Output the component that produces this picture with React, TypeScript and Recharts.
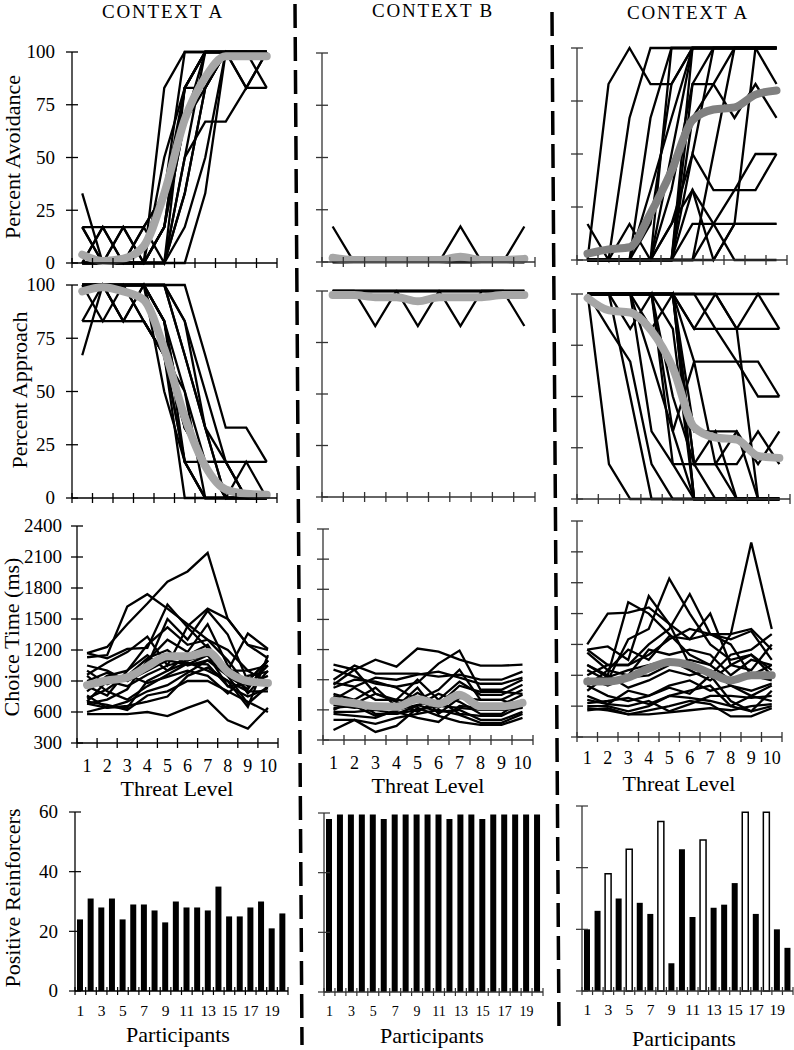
import React from 'react';
import { LineChart, Line, XAxis, YAxis, BarChart, Bar, Cell } from 'recharts';

const FONT = '"Liberation Serif", "Times New Roman", Times, serif';

// ---- categories / ticks ----
const threatLevels = [1, 2, 3, 4, 5, 6, 7, 8, 9, 10];
const levelEdges = [0.5, 1.5, 2.5, 3.5, 4.5, 5.5, 6.5, 7.5, 8.5, 9.5, 10.5];
const participants = [1, 2, 3, 4, 5, 6, 7, 8, 9, 10, 11, 12, 13, 14, 15, 16, 17, 18, 19, 20];
const pctTicks = [0, 25, 50, 75, 100];
const msTicks = [300, 600, 900, 1200, 1500, 1800, 2100, 2400];
const reinfTicks = [0, 20, 40, 60];

// ---- percent avoidance, context A (first) ----
const avoidA1 = [
  [33, 0, 0, 0, 0, 33, 83, 100, 100, 100],
  [17, 17, 17, 17, 33, 83, 100, 100, 100, 100],
  [17, 0, 17, 0, 17, 83, 100, 100, 100, 100],
  [0, 17, 0, 17, 0, 50, 100, 100, 100, 100],
  [17, 0, 0, 17, 33, 100, 100, 100, 83, 100],
  [0, 0, 17, 0, 17, 67, 100, 100, 100, 83],
  [0, 17, 0, 0, 0, 83, 83, 100, 100, 100],
  [0, 0, 0, 0, 83, 100, 100, 100, 100, 100],
  [0, 0, 0, 0, 50, 83, 100, 100, 100, 100],
  [0, 0, 0, 0, 0, 50, 67, 67, 83, 83],
  [0, 0, 0, 0, 0, 17, 50, 100, 100, 100],
  [0, 0, 0, 0, 0, 0, 33, 100, 100, 100],
  [0, 0, 0, 0, 17, 67, 83, 100, 83, 100],
  [0, 0, 0, 0, 0, 33, 83, 100, 100, 100],
  [0, 0, 0, 0, 17, 83, 100, 100, 100, 100],
];
const avoidA1Mean = [4, 1, 2, 8, 33, 68, 88, 98, 98, 98];

// ---- percent avoidance, context B ----
const avoidB = [
  [17, 0, 0, 0, 0, 0, 0, 0, 0, 0],
  [0, 0, 0, 0, 0, 0, 17, 0, 0, 0],
  [0, 0, 0, 0, 0, 0, 0, 0, 0, 17],
  [0, 0, 0, 0, 0, 0, 0, 0, 0, 0],
];
const avoidBMean = [2, 1, 1, 1, 1, 1, 2.5, 1, 1, 1.5];

// ---- percent avoidance, context A (second) ----
const avoidA2 = [
  [0, 83, 100, 83, 83, 100, 100, 100, 100, 100],
  [17, 0, 67, 100, 100, 100, 100, 100, 100, 100],
  [0, 0, 0, 67, 100, 100, 100, 100, 100, 100],
  [0, 0, 0, 33, 67, 100, 100, 100, 100, 100],
  [0, 0, 0, 0, 100, 100, 100, 100, 100, 100],
  [0, 0, 0, 17, 83, 100, 100, 100, 100, 100],
  [0, 0, 0, 0, 33, 83, 83, 67, 83, 67],
  [0, 0, 0, 0, 0, 67, 83, 100, 100, 100],
  [0, 0, 0, 0, 0, 50, 33, 33, 33, 50],
  [0, 0, 0, 0, 0, 17, 17, 17, 17, 17],
  [0, 0, 0, 0, 0, 33, 17, 0, 0, 0],
  [0, 0, 0, 0, 0, 0, 17, 33, 50, 50],
  [0, 0, 0, 0, 0, 0, 0, 17, 100, 100],
  [0, 0, 0, 0, 50, 100, 100, 100, 100, 83],
  [0, 0, 0, 0, 0, 0, 50, 100, 100, 100],
  [0, 0, 0, 0, 17, 33, 0, 17, 17, 17],
  [0, 0, 0, 0, 0, 100, 100, 100, 100, 100],
  [0, 0, 0, 0, 17, 50, 100, 100, 100, 100],
  [0, 0, 17, 0, 0, 83, 100, 100, 100, 100],
];
const avoidA2Mean = [3, 5, 6, 22, 42, 66, 71, 72, 78, 80];

// ---- percent approach, context A (first) ----
const apprA1 = [
  [67, 100, 83, 83, 67, 33, 17, 0, 0, 0],
  [83, 83, 83, 83, 67, 50, 17, 17, 0, 0],
  [100, 83, 100, 83, 67, 17, 0, 0, 0, 0],
  [100, 100, 83, 100, 83, 33, 17, 0, 0, 0],
  [83, 100, 100, 100, 100, 67, 33, 17, 17, 17],
  [100, 100, 100, 100, 100, 100, 67, 33, 33, 17],
  [100, 100, 100, 100, 100, 83, 50, 17, 0, 0],
  [100, 100, 100, 100, 83, 50, 0, 0, 0, 0],
  [100, 100, 83, 100, 67, 17, 17, 0, 17, 0],
  [100, 100, 100, 100, 50, 17, 0, 0, 0, 0],
  [100, 100, 100, 100, 100, 67, 33, 0, 0, 0],
  [100, 100, 100, 83, 67, 0, 0, 0, 0, 0],
  [100, 100, 100, 100, 83, 33, 17, 17, 0, 0],
  [100, 100, 100, 100, 100, 83, 33, 0, 0, 0],
  [100, 100, 100, 100, 83, 17, 0, 0, 0, 0],
];
const apprA1Mean = [97, 99, 97, 93, 70, 38, 15, 4, 2, 1.5];

// ---- percent approach, context B ----
const apprB = [
  [100, 100, 83, 100, 100, 100, 100, 100, 100, 100],
  [100, 100, 100, 100, 83, 100, 100, 100, 100, 100],
  [100, 100, 100, 100, 100, 100, 83, 100, 100, 100],
  [100, 100, 100, 100, 100, 100, 100, 100, 100, 83],
];
const apprBMean = [98, 98, 97, 97, 95, 97, 97, 97, 98, 98];

// ---- percent approach, context A (second) ----
const apprA2 = [
  [100, 17, 0, 0, 0, 0, 0, 0, 0, 0],
  [100, 100, 50, 0, 0, 0, 0, 0, 0, 0],
  [100, 100, 100, 33, 17, 17, 0, 0, 0, 0],
  [100, 100, 100, 100, 50, 17, 33, 0, 0, 0],
  [100, 100, 100, 83, 100, 0, 0, 0, 0, 0],
  [100, 100, 100, 100, 100, 0, 0, 0, 0, 0],
  [100, 100, 100, 100, 33, 67, 17, 17, 33, 17],
  [100, 100, 100, 100, 100, 83, 83, 83, 83, 83],
  [100, 100, 100, 100, 100, 100, 83, 67, 67, 50],
  [100, 100, 100, 100, 100, 100, 100, 83, 100, 83],
  [100, 100, 100, 100, 100, 83, 100, 100, 100, 100],
  [100, 100, 100, 100, 100, 67, 67, 67, 50, 50],
  [100, 100, 100, 100, 100, 17, 17, 33, 17, 33],
  [100, 100, 100, 100, 100, 100, 100, 83, 0, 0],
  [100, 100, 100, 100, 100, 17, 17, 0, 0, 0],
  [100, 100, 100, 100, 83, 0, 0, 0, 0, 0],
  [100, 100, 100, 100, 100, 33, 33, 33, 0, 0],
  [100, 83, 67, 17, 0, 0, 0, 0, 0, 0],
  [100, 100, 83, 100, 17, 0, 0, 0, 0, 0],
  [100, 100, 100, 67, 33, 0, 0, 0, 0, 0],
];
const apprA2Mean = [98, 92, 91, 82, 64, 35, 30, 29, 21, 20];

// ---- choice time (ms), context A (first) ----
const timeA1 = [
  [1170, 1230, 1450, 1650, 1860, 1960, 2140, 1500, 1250, 1200],
  [1130, 1150, 1620, 1740, 1600, 1450, 1300, 1200, 1000, 1050],
  [1170, 1120, 1210, 1220, 1640, 1420, 1220, 1000, 1360, 1210],
  [960, 1080, 1180, 1330, 1050, 1430, 1600, 1500, 1250, 1120],
  [900, 980, 900, 1050, 1500, 1300, 1580, 1350, 900, 1100],
  [800, 950, 1000, 1250, 1420, 1250, 1300, 1100, 850, 1050],
  [680, 720, 820, 1100, 1300, 1180, 1450, 1050, 780, 1000],
  [600, 650, 640, 900, 1000, 1150, 1250, 950, 820, 1100],
  [580, 580, 580, 600, 560, 640, 710, 520, 440, 640],
  [700, 670, 620, 760, 800, 900, 900, 800, 700, 600],
  [760, 640, 660, 700, 750, 950, 1030, 900, 800, 800],
  [950, 800, 720, 850, 960, 1070, 1060, 850, 750, 830],
  [1050, 1000, 900, 1000, 1100, 1060, 1150, 980, 900, 1100],
  [850, 760, 1000, 1150, 1000, 1080, 1000, 900, 650, 1150],
  [700, 900, 850, 960, 1050, 1100, 1150, 850, 870, 950],
  [1000, 870, 950, 1120, 1200, 1050, 1100, 1000, 1000, 880],
  [730, 820, 960, 880, 940, 1000, 950, 780, 950, 990],
  [680, 640, 700, 800, 860, 980, 1100, 950, 680, 850],
];
const timeA1Mean = [860, 905, 935, 1040, 1140, 1140, 1180, 990, 900, 880];

// ---- choice time (ms), context B ----
const timeB = [
  [1050, 1000, 1100, 1030, 1210, 1180, 1100, 1040, 1040, 1050],
  [1000, 930, 860, 830, 870, 1060, 1190, 800, 800, 900],
  [900, 1040, 960, 960, 960, 930, 950, 900, 900, 980],
  [870, 830, 920, 900, 950, 980, 920, 860, 860, 920],
  [850, 1000, 760, 700, 900, 700, 880, 750, 750, 850],
  [820, 900, 880, 820, 700, 800, 1000, 700, 700, 800],
  [760, 700, 820, 630, 770, 650, 840, 780, 780, 760],
  [700, 820, 700, 700, 680, 620, 770, 650, 650, 750],
  [650, 620, 640, 630, 820, 560, 720, 700, 700, 620],
  [600, 700, 560, 560, 640, 760, 680, 560, 560, 700],
  [580, 580, 600, 560, 600, 640, 620, 600, 600, 660],
  [560, 540, 520, 600, 650, 580, 600, 500, 500, 580],
  [500, 500, 460, 520, 560, 600, 550, 470, 470, 560],
  [400, 500, 380, 440, 620, 540, 480, 450, 450, 520],
  [620, 640, 540, 580, 520, 480, 640, 620, 600, 620],
  [740, 660, 760, 680, 580, 700, 560, 540, 540, 640],
];
const timeBMean = [690, 665, 635, 630, 705, 660, 750, 635, 635, 670];

// ---- choice time (ms), context A (second) ----
const timeA2 = [
  [1200, 1500, 1510, 1560, 1400, 1250, 1300, 1250, 1330, 1050],
  [1000, 900, 1610, 1500, 1300, 1100, 1000, 1300, 2190, 1350],
  [1150, 1180, 1050, 1670, 1400, 1000, 900, 1100, 1150, 1300],
  [950, 850, 1250, 1350, 1840, 1500, 1200, 1050, 1100, 900],
  [900, 1000, 1000, 1200, 1350, 1690, 1300, 1200, 900, 1000],
  [1120, 950, 1150, 1050, 1280, 1250, 1500, 1000, 950, 1200],
  [1150, 1000, 1000, 1100, 1250, 1350, 1300, 1300, 1350, 1150],
  [800, 950, 900, 1150, 1100, 1150, 1100, 900, 1050, 1000],
  [1000, 880, 950, 1000, 1050, 950, 850, 1000, 1100, 950],
  [870, 800, 880, 900, 1000, 1050, 1000, 850, 900, 850],
  [750, 900, 780, 850, 950, 900, 950, 800, 700, 800],
  [700, 620, 750, 700, 800, 850, 750, 800, 750, 820],
  [800, 700, 650, 700, 780, 720, 900, 650, 550, 750],
  [600, 600, 550, 600, 700, 750, 800, 600, 550, 600],
  [560, 580, 520, 560, 600, 650, 620, 500, 500, 580],
  [580, 560, 520, 520, 540, 560, 580, 560, 600, 620],
  [630, 650, 680, 620, 700, 680, 650, 600, 700, 650],
  [660, 620, 600, 650, 550, 620, 700, 700, 680, 700],
];
const timeA2Mean = [840, 840, 880, 965, 1030, 1000, 920, 850, 900, 900];

// ---- positive reinforcers per participant ----
const reinfA1 = [24, 31, 28, 31, 24, 29, 29, 27, 23, 30, 28, 28, 27, 35, 25, 25, 28, 30, 21, 26];
const reinfB = [58, 59.5, 59.5, 59.5, 59.5, 58, 59.5, 59.5, 59.5, 59.5, 59.5, 58, 59.5, 59.5, 58, 59.5, 59.5, 59.5, 59.5, 59.5];
const reinfA2 = [20, 26, 38, 30, 46, 28.6, 25, 55, 9, 46, 24, 49, 27, 28, 35, 58, 25, 58, 20, 14];
const reinfA2Hollow = [false, false, true, false, true, false, false, true, false, false, false, true, false, false, false, true, false, true, false, false];

type Rect = { x0: number; y0: number; x1: number; y1: number };

function LinePanel(props: {
  rect: Rect;
  lines: number[][];
  mean: number[];
  meanColor: string;
  yDomain: [number, number];
  yTicks: number[];
  yLabels?: boolean;
  yGap?: number;
  xLabels?: boolean;
  xLabelDy?: number;
  axisColor?: string;
}) {
  const { rect, lines, mean, meanColor, yDomain, yTicks } = props;
  const yGap = props.yGap ?? 17;
  const xLabelDy = props.xLabelDy ?? 24;
  const axisColor = props.axisColor ?? '#000';
  const padL = 75, padR = 12, padT = 12, padB = 40;
  const w = rect.x1 - rect.x0;
  const h = rect.y1 - rect.y0;
  const band = w / threatLevels.length;

  const data = threatLevels.map((lvl, i) => {
    const row: Record<string, number> = { lvl, mean: mean[i] };
    lines.forEach((l, j) => {
      row['p' + j] = l[i];
    });
    return row;
  });

  const xTick = (p: any) => {
    const v = p.payload.value as number;
    return (
      <g>
        <line x1={p.x} x2={p.x} y1={p.y - 5} y2={p.y + 5} stroke={axisColor} strokeWidth={1.3} />
        {props.xLabels && v < 10 ? (
          <text x={p.x + band / 2} y={p.y + xLabelDy} dy="0.34em" textAnchor="middle" fontFamily={FONT} fontSize={18} fill="#000">
            {v + 0.5}
          </text>
        ) : null}
      </g>
    );
  };

  const yTick = (p: any) => (
    <g>
      <line x1={p.x - 6} x2={p.x + 6} y1={p.y} y2={p.y} stroke={axisColor} strokeWidth={1.3} />
      {props.yLabels ? (
        <text x={p.x - yGap} y={p.y} dy="0.34em" textAnchor="end" fontFamily={FONT} fontSize={19} fill="#000">
          {p.payload.value}
        </text>
      ) : null}
    </g>
  );

  return (
    <div style={{ position: 'absolute', left: rect.x0 - padL, top: rect.y0 - padT }}>
      <LineChart
        width={w + padL + padR}
        height={h + padT + padB}
        data={data}
        margin={{ top: padT, right: padR, bottom: 0, left: 0 }}
      >
        <XAxis
          dataKey="lvl"
          type="number"
          domain={[0.5, 10.5]}
          ticks={levelEdges}
          interval={0}
          height={padB}
          tickSize={0}
          tickMargin={0}
          tickLine={false}
          axisLine={{ stroke: axisColor, strokeWidth: 1.3 }}
          tick={xTick}
        />
        <YAxis
          type="number"
          domain={yDomain}
          ticks={yTicks}
          interval={0}
          width={padL}
          tickSize={0}
          tickMargin={0}
          tickLine={false}
          axisLine={{ stroke: axisColor, strokeWidth: 1.3 }}
          tick={yTick}
        />
        {lines.map((_, j) => (
          <Line
            key={j}
            dataKey={'p' + j}
            type="linear"
            stroke="#000"
            strokeWidth={2.3}
            dot={false}
            isAnimationActive={false}
          />
        ))}
        <Line
          dataKey="mean"
          type="monotone"
          stroke={meanColor}
          strokeWidth={8}
          strokeLinecap="round"
          strokeLinejoin="round"
          dot={false}
          isAnimationActive={false}
        />
      </LineChart>
    </div>
  );
}

function BarPanel(props: {
  rect: Rect;
  values: number[];
  hollow?: boolean[];
  yLabels?: boolean;
  labelSize: number;
  labelDy: number;
  axisColor?: string;
}) {
  const { rect, values, hollow } = props;
  const axisColor = props.axisColor ?? '#000';
  const padL = 75, padR = 6, padT = 12, padB = 40;
  const w = rect.x1 - rect.x0;
  const h = rect.y1 - rect.y0;
  const band = w / participants.length;
  const data = participants.map((id, i) => ({ id, v: values[i] }));

  const xTick = (p: any) => {
    const id = p.payload.value as number;
    const last = id === participants[participants.length - 1];
    return (
      <g>
        <line x1={p.x - band / 2} x2={p.x - band / 2} y1={p.y - 4} y2={p.y + 4} stroke={axisColor} strokeWidth={1.2} />
        {last ? (
          <line x1={p.x + band / 2} x2={p.x + band / 2} y1={p.y - 4} y2={p.y + 4} stroke={axisColor} strokeWidth={1.2} />
        ) : null}
        {id % 2 === 1 ? (
          <text x={p.x} y={p.y + props.labelDy} dy="0.34em" textAnchor="middle" fontFamily={FONT} fontSize={props.labelSize} fill="#000">
            {id}
          </text>
        ) : null}
      </g>
    );
  };

  const yTick = (p: any) => (
    <g>
      <line x1={p.x - 6} x2={p.x + 6} y1={p.y} y2={p.y} stroke={axisColor} strokeWidth={1.2} />
      {props.yLabels ? (
        <text x={p.x - 17} y={p.y} dy="0.34em" textAnchor="end" fontFamily={FONT} fontSize={19} fill="#000">
          {p.payload.value}
        </text>
      ) : null}
    </g>
  );

  return (
    <div style={{ position: 'absolute', left: rect.x0 - padL, top: rect.y0 - padT }}>
      <BarChart
        width={w + padL + padR}
        height={h + padT + padB}
        data={data}
        margin={{ top: padT, right: padR, bottom: 0, left: 0 }}
        barSize={6}
      >
        <XAxis
          dataKey="id"
          type="category"
          interval={0}
          height={padB}
          tickSize={0}
          tickMargin={0}
          tickLine={false}
          axisLine={{ stroke: axisColor, strokeWidth: 1.3 }}
          tick={xTick}
        />
        <YAxis
          type="number"
          domain={[0, 60]}
          ticks={reinfTicks}
          interval={0}
          width={padL}
          tickSize={0}
          tickMargin={0}
          tickLine={false}
          axisLine={{ stroke: axisColor, strokeWidth: 1.3 }}
          tick={yTick}
        />
        <Bar dataKey="v" fill="#000" isAnimationActive={false}>
          {data.map((d, i) => (
            <Cell
              key={d.id}
              fill={hollow && hollow[i] ? '#fff' : '#000'}
              stroke="#000"
              strokeWidth={hollow && hollow[i] ? 1.5 : 0}
            />
          ))}
        </Bar>
      </BarChart>
    </div>
  );
}

function Label(props: { text: string; cx: number; cy: number; size?: number; rotate?: boolean; spacing?: number }) {
  const size = props.size ?? 22;
  return (
    <div
      style={{
        position: 'absolute',
        left: props.cx,
        top: props.cy,
        transform: `translate(-50%, -50%)${props.rotate ? ' rotate(-90deg)' : ''}`,
        fontFamily: FONT,
        fontSize: size,
        lineHeight: `${size}px`,
        letterSpacing: props.spacing ?? 0,
        whiteSpace: 'nowrap',
        color: '#000',
      }}
    >
      {props.text}
    </div>
  );
}

const LIGHT = '#a6a6a6';
const DARK = '#808080';

export default function App() {
  return (
    <div
      style={{
        position: 'absolute',
        left: 0,
        top: 0,
        width: 794,
        height: 1050,
        overflow: 'hidden',
        background: '#fff',
      }}
    >
      <Label text="CONTEXT A" cx={163} cy={11} size={19} spacing={1.8} />
      <Label text="CONTEXT B" cx={433} cy={10} size={19} spacing={1.8} />
      <Label text="CONTEXT A" cx={688} cy={12} size={19} spacing={1.8} />

      <Label text="Percent Avoidance" cx={13} cy={157} rotate />
      <Label text="Percent Approach" cx={20} cy={390} rotate />
      <Label text="Choice Time (ms)" cx={12} cy={637} rotate />
      <Label text="Positive Reinforcers" cx={13} cy={898} rotate />

      {/* row 1: percent avoidance */}
      <LinePanel rect={{ x0: 72, y0: 52, x1: 277, y1: 263 }} lines={avoidA1} mean={avoidA1Mean} meanColor={LIGHT} yDomain={[0, 100]} yTicks={pctTicks} yLabels />
      <LinePanel rect={{ x0: 322, y0: 53, x1: 535, y1: 262 }} lines={avoidB} mean={avoidBMean} meanColor={LIGHT} yDomain={[0, 100]} yTicks={pctTicks} axisColor="#333" />
      <LinePanel rect={{ x0: 577, y0: 48, x1: 787, y1: 260 }} lines={avoidA2} mean={avoidA2Mean} meanColor={DARK} yDomain={[0, 100]} yTicks={pctTicks} axisColor="#333" />

      {/* row 2: percent approach */}
      <LinePanel rect={{ x0: 72, y0: 285, x1: 277, y1: 498 }} lines={apprA1} mean={apprA1Mean} meanColor={LIGHT} yDomain={[0, 100]} yTicks={pctTicks} yLabels />
      <LinePanel rect={{ x0: 322, y0: 291, x1: 535, y1: 497 }} lines={apprB} mean={apprBMean} meanColor={LIGHT} yDomain={[0, 100]} yTicks={pctTicks} axisColor="#333" />
      <LinePanel rect={{ x0: 577, y0: 294, x1: 790, y1: 499 }} lines={apprA2} mean={apprA2Mean} meanColor={LIGHT} yDomain={[0, 100]} yTicks={pctTicks} axisColor="#333" />

      {/* row 3: choice time */}
      <LinePanel rect={{ x0: 77, y0: 526, x1: 278, y1: 743 }} lines={timeA1} mean={timeA1Mean} meanColor={LIGHT} yDomain={[300, 2400]} yTicks={msTicks} yLabels yGap={15} xLabels xLabelDy={23} />
      <LinePanel rect={{ x0: 323, y0: 529, x1: 533, y1: 740 }} lines={timeB} mean={timeBMean} meanColor={LIGHT} yDomain={[300, 2400]} yTicks={msTicks} xLabels xLabelDy={23} axisColor="#333" />
      <LinePanel rect={{ x0: 577, y0: 521, x1: 782, y1: 737 }} lines={timeA2} mean={timeA2Mean} meanColor={DARK} yDomain={[300, 2400]} yTicks={msTicks} xLabels xLabelDy={21} axisColor="#333" />

      <Label text="Threat Level" cx={177} cy={789} />
      <Label text="Threat Level" cx={428} cy={786} />
      <Label text="Threat Level" cx={679} cy={784} />

      {/* row 4: positive reinforcers */}
      <BarPanel rect={{ x0: 75, y0: 812, x1: 288, y1: 991 }} values={reinfA1} yLabels labelSize={15.5} labelDy={20} />
      <BarPanel rect={{ x0: 324, y0: 813, x1: 543, y1: 992 }} values={reinfB} labelSize={14} labelDy={19} axisColor="#333" />
      <BarPanel rect={{ x0: 582, y0: 806, x1: 793, y1: 991 }} values={reinfA2} hollow={reinfA2Hollow} labelSize={15.5} labelDy={19} axisColor="#333" />

      <Label text="Participants" cx={178} cy={1035} />
      <Label text="Participants" cx={432} cy={1036} />
      <Label text="Participants" cx={684} cy={1039} />

      <svg width={794} height={1050} style={{ position: 'absolute', left: 0, top: 0, pointerEvents: 'none' }}>
        <line x1={295} y1={4} x2={302} y2={1045} stroke="#000" strokeWidth={3.5} strokeDasharray="24 9" />
        <line x1={552} y1={12} x2={559} y2={1032} stroke="#000" strokeWidth={3.5} strokeDasharray="24 9" />
      </svg>
    </div>
  );
}
